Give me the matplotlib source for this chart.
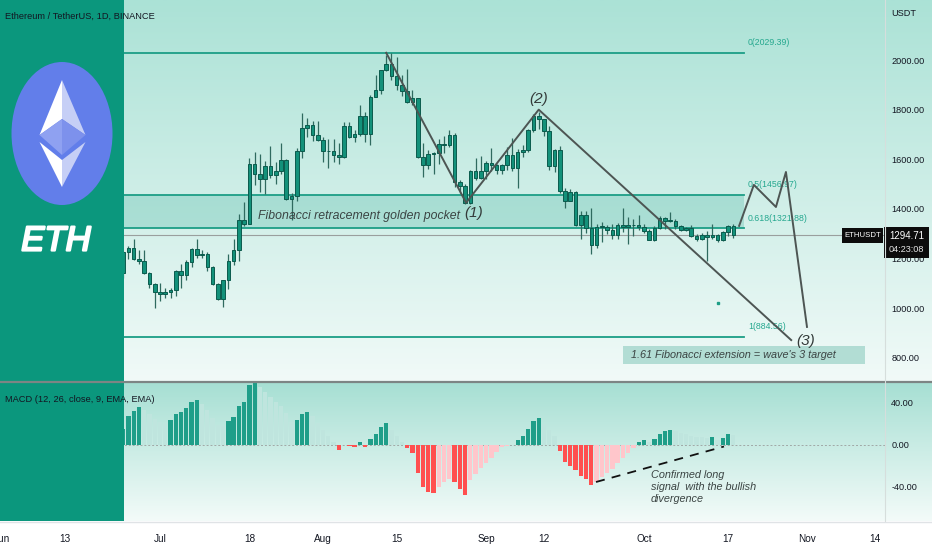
import numpy as np
import pandas as pd
import matplotlib
matplotlib.use("Agg")
import matplotlib.pyplot as plt
import matplotlib.patheffects as pe
from matplotlib.patches import Ellipse, Polygon, Rectangle

plt.rcParams["font.family"] = ["Liberation Sans", "DejaVu Sans"]

# ---------------- data ----------------
dates = pd.date_range("2022-06-24", "2022-10-18", freq="D")

opens = [1143, 1225, 1243, 1198, 1191, 1143, 1098, 1067, 1059, 1067, 1074, 1151, 1134, 1187, 1238, 1216,
         1219, 1168, 1097, 1039, 1113, 1192, 1233, 1354, 1339, 1582, 1542, 1522, 1574, 1535, 1551, 1596,
         1440, 1451, 1635, 1725, 1737, 1697, 1678, 1633, 1632, 1618, 1608, 1736, 1691, 1700, 1776, 1702,
         1852, 1880, 1958, 1983, 1935, 1900, 1877, 1832, 1847, 1610, 1576, 1620, 1624, 1663, 1656, 1696,
         1507, 1491, 1424, 1553, 1524, 1553, 1586, 1577, 1556, 1577, 1617, 1564, 1630, 1636, 1718, 1775,
         1761, 1714, 1574, 1636, 1472, 1434, 1470, 1337, 1377, 1325, 1253, 1328, 1327, 1316, 1294, 1335,
         1329, 1336, 1334, 1328, 1311, 1276, 1323, 1362, 1352, 1352, 1330, 1316, 1322, 1292, 1280, 1294,
         1288, 1297, 1274, 1306, 1331]
highs = [1230, 1250, 1280, 1236, 1233, 1148, 1100, 1102, 1080, 1081, 1154, 1179, 1193, 1241, 1280, 1236,
         1225, 1170, 1100, 1113, 1218, 1279, 1380, 1427, 1605, 1630, 1620, 1595, 1655, 1590, 1667, 1602,
         1466, 1646, 1787, 1767, 1755, 1755, 1688, 1680, 1680, 1667, 1750, 1750, 1720, 1820, 1790, 1860,
         1941, 1961, 2020, 2030, 2013, 1940, 1962, 1880, 1848, 1667, 1637, 1630, 1682, 1694, 1718, 1705,
         1515, 1499, 1555, 1605, 1615, 1595, 1645, 1580, 1581, 1650, 1686, 1640, 1659, 1724, 1781, 1790,
         1764, 1735, 1643, 1654, 1485, 1480, 1471, 1390, 1390, 1403, 1341, 1346, 1336, 1340, 1343, 1402,
         1366, 1358, 1375, 1339, 1318, 1330, 1370, 1366, 1388, 1358, 1336, 1327, 1334, 1298, 1303, 1310,
         1340, 1299, 1310, 1335, 1338]
lows = [1123, 1200, 1196, 1178, 1139, 1080, 1003, 1031, 1041, 1040, 1049, 1082, 1114, 1166, 1203, 1201,
        1150, 1094, 1034, 1006, 1077, 1175, 1192, 1333, 1339, 1495, 1470, 1460, 1525, 1500, 1541, 1437,
        1356, 1433, 1606, 1691, 1673, 1675, 1588, 1565, 1590, 1582, 1605, 1687, 1670, 1694, 1670, 1656,
        1850, 1863, 1955, 1920, 1880, 1855, 1826, 1820, 1605, 1530, 1563, 1542, 1583, 1625, 1650, 1488,
        1464, 1422, 1420, 1515, 1521, 1520, 1552, 1540, 1539, 1556, 1552, 1486, 1610, 1630, 1709, 1721,
        1695, 1557, 1548, 1463, 1403, 1432, 1331, 1281, 1303, 1220, 1242, 1266, 1300, 1280, 1280, 1306,
        1260, 1292, 1315, 1305, 1276, 1270, 1320, 1320, 1346, 1320, 1310, 1311, 1289, 1270, 1275, 1190,
        1280, 1268, 1271, 1291, 1285]
closes = opens[1:] + [1295]

macd_hist = [15, 27, 32.5, 36, 33, 29, 25, 22, 21, 23.4, 29, 31, 35.4, 41, 42.6, 39,
             33, 26, 19, 17.5, 22.4, 26.7, 37.4, 41, 57.6, 60.5, 55, 51, 46, 41, 37, 30,
             22, 23.4, 29.3, 31, 27, 21, 14, 8, 2.5, -5, -0.8, -1.6, -2.6, 2, -2.6, 4.9,
             10.4, 16.9, 20.8, 14, 8, 2, -3.6, -8.5, -27, -41, -45.9, -47, -41, -36, -33, -36,
             -43, -48.5, -34, -28, -23, -18, -13, -7.5, -2.6, -1, -0.3, 4.6, 8.1, 15.3, 22.8, 26,
             20, 14, 8, -6, -16.6, -20.5, -25, -30, -33, -39, -36, -31, -27, -24, -18, -13,
             -8, -3, 2.3, 3.9, 2, 5.5, 10.4, 13, 14.3, 13, 11, 10, 8.5, 7.5, 7, 6,
             7, 4.5, 6.5, 9.8, 8.8]

fib_levels = [2029.39, 1456.97, 1321.88, 884.56]
fib_names = ["0(2029.39)", "0.5(1456.97)", "0.618(1321.88)", "1(884.56)"]
last_price = 1294.71

price_ticks = [800, 1000, 1200, 1400, 1600, 1800, 2000]
macd_ticks = [-40, 0, 40]
tick_dates = ["2022-06-01", "2022-06-13", "2022-07-01", "2022-07-18", "2022-08-01", "2022-08-15",
              "2022-09-01", "2022-09-12", "2022-10-01", "2022-10-17", "2022-11-01", "2022-11-14"]
tick_labels = ["Jun", "13", "Jul", "18", "Aug", "15", "Sep", "12", "Oct", "17", "Nov", "14"]

# elliott wave drawing (day offset from Jul 1, price)
wave_x = [43, 58.2, 72, 120]
wave_y = [2029, 1425, 1800, 872]
proj_x = [110.1, 112.9, 117.1, 119.0, 123.0]
proj_y = [1332, 1497, 1408, 1549, 925]

# ---------------- layout helpers ----------------
W, H = 932, 550
base = pd.Timestamp("2022-07-01")
day = (dates - base).days.values
tick_days = [(pd.Timestamp(t) - base).days for t in tick_dates]

PXD = 5.26  # pixels per day


def d_of(x):
    return (x - 160) / PXD


def p_of(y):
    return 2000 - (y - 60) / 0.2483


def m_of(y):
    return (444.5 - y) / 1.0375


def frac(x0, y0, x1, y1):
    return [x0 / W, 1 - y1 / H, (x1 - x0) / W, (y1 - y0) / H]


fig = plt.figure(figsize=(W / 100, H / 100), dpi=100, facecolor="white")

# background gradients
bg = fig.add_axes([0, 0, 1, 1])
bg.axis("off")


def gradient(top, bot, y0, y1):
    c0 = np.array(matplotlib.colors.to_rgb(top))
    c1 = np.array(matplotlib.colors.to_rgb(bot))
    t = np.linspace(0, 1, 256)[:, None]
    img = (c0 * (1 - t) + c1 * t)[:, None, :]
    bg.imshow(img, extent=[0, W, y1, y0], aspect="auto", interpolation="bilinear")


gradient("#abe2d6", "#f1faf8", 0, 381)
gradient("#a6dfd3", "#f3fbf9", 382, 521)
bg.set_xlim(0, W)
bg.set_ylim(H, 0)

# ---------------- price pane ----------------
ax = fig.add_axes(frac(0, 0, 885, 381))
ax.set_facecolor("none")
ax.set_xlim(d_of(0), d_of(885))
ax.set_ylim(p_of(381), p_of(0))
for s in ax.spines.values():
    s.set_visible(False)
ax.set_xticks([])
ax.yaxis.tick_right()
ax.set_yticks(price_ticks)
ax.set_yticklabels([f"{v:.2f}" for v in price_ticks])
ax.tick_params(axis="y", length=0, pad=4.5, labelsize=6.6, labelcolor="#131722")

# fib retracement
fd0, fd1 = -13, 111
ax.fill_between([fd0, fd1], fib_levels[2], fib_levels[1], color="#5fbfae", alpha=0.35, lw=0, zorder=1)
for lv, nm in zip(fib_levels, fib_names):
    ax.plot([fd0, fd1], [lv, lv], color="#1c9e86", lw=1.3, zorder=2)
    ax.annotate(nm, (fd1, lv), xytext=(3, 4), textcoords="offset points",
                fontsize=6.3, color="#26a88f", va="bottom", ha="left")

# last price line
ax.axhline(last_price, color="#9a9f9e", lw=0.8, zorder=2)

# candles
o = np.array(opens, float)
c = np.array(closes, float)
lo_body = np.minimum(o, c)
hgt = np.maximum(np.abs(c - o), 3)
ax.vlines(day, lows, highs, color="#2f6a5f", lw=0.9, zorder=3)
ax.bar(day, hgt, bottom=lo_body, width=0.68, color="#13917a", edgecolor="#0b5b4d", lw=0.7, zorder=4)

# wave drawing
ax.plot(wave_x, wave_y, color="#4d5553", lw=1.4, zorder=5)
ax.plot(proj_x, proj_y, color="#4d5553", lw=1.4, zorder=5)
for lbl, xx, yy in [("(1)", 59.6, 1385), ("(2)", 72.0, 1842), ("(3)", 122.8, 868)]:
    ax.text(xx, yy, lbl, fontsize=11, style="italic", color="#333a39", ha="center", va="center", zorder=6)

ax.text(d_of(258), p_of(216), "Fibonacci retracement golden pocket", fontsize=8.8, style="italic",
        color="#3b4443", ha="left", va="center", zorder=6)

# target box
ax.add_patch(Rectangle((d_of(623), p_of(364)), d_of(865) - d_of(623), p_of(346) - p_of(364),
                       facecolor="#9fd4c9", alpha=0.75, lw=0, zorder=5))
ax.text(d_of(631), p_of(355.5), "1.61 Fibonacci extension = wave's 3 target", fontsize=7.8,
        style="italic", color="#3b4443", ha="left", va="center", zorder=6)
ax.plot([d_of(718)], [p_of(303)], "s", ms=1.6, color="#1c9e86", zorder=6)

# ---------------- MACD pane ----------------
mx = fig.add_axes(frac(0, 382, 885, 521))
mx.set_facecolor("none")
mx.set_xlim(d_of(0), d_of(885))
mx.set_ylim(m_of(521), m_of(382))
for s in mx.spines.values():
    s.set_visible(False)
mx.yaxis.tick_right()
mx.set_yticks(macd_ticks)
mx.set_yticklabels([f"{v:.2f}" for v in macd_ticks])
mx.tick_params(axis="y", length=0, pad=4.5, labelsize=6.6, labelcolor="#131722")
mx.set_xticks(tick_days)
mx.set_xticklabels(tick_labels)
mx.tick_params(axis="x", length=0, pad=9, labelsize=7.2, labelcolor="#131722")

hist = np.array(macd_hist)
cols = []
for i, v in enumerate(hist):
    prev = hist[i - 1] if i > 0 else v - 1
    if v >= 0:
        cols.append("#1f9e89" if v >= prev else "#bfe5de")
    else:
        cols.append("#ff4f4f" if v <= prev else "#ffc6cb")
mx.bar(day, hist, width=0.82, color=cols, lw=0, zorder=3)
mx.axhline(0, color="#a0a8a6", lw=0.7, ls=(0, (2, 2)), zorder=2)

mx.plot([d_of(596), d_of(724)], [m_of(482), m_of(446.5)], color="#111111", lw=1.3,
        ls=(0, (5, 4)), zorder=4)
mx.text(d_of(651), m_of(470.5), "Confirmed long\nsignal  with the bullish\ndivergence", fontsize=7.8,
        style="italic", color="#3b4443", ha="left", va="top", linespacing=1.25, zorder=5)

# ---------------- overlay ----------------
ov = fig.add_axes([0, 0, 1, 1])
ov.set_facecolor("none")
ov.set_xlim(0, W)
ov.set_ylim(H, 0)
ov.axis("off")

ov.add_patch(Rectangle((0, 0), 124, 521, facecolor="#0b977d", lw=0))
ov.add_patch(Ellipse((62, 133.5), 101, 143, facecolor="#627eea", lw=0))
top, left, right, mid, bup = (62, 80), (39.5, 135), (85.5, 135), (62, 119), (62, 155)
ov.add_patch(Polygon([top, left, mid], facecolor="#ffffff", lw=0))
ov.add_patch(Polygon([top, mid, right], facecolor="#c6cff6", lw=0))
ov.add_patch(Polygon([left, mid, bup], facecolor="#8fa1f1", lw=0))
ov.add_patch(Polygon([mid, right, bup], facecolor="#7d91ec", lw=0))
l2, inner, r2, bot = (39.5, 142), (62, 160), (85.5, 142), (62, 187)
ov.add_patch(Polygon([l2, inner, bot], facecolor="#ffffff", lw=0))
ov.add_patch(Polygon([inner, r2, bot], facecolor="#c6cff6", lw=0))
ov.text(56, 241, "ETH", fontsize=25, style="italic", color="white", ha="center", va="center",
        path_effects=[pe.withStroke(linewidth=1.6, foreground="white")])

ov.text(5, 16, "Ethereum / TetherUS, 1D, BINANCE", fontsize=6.7, color="#131722", ha="left", va="center")
ov.text(5, 399, "MACD (12, 26, close, 9, EMA, EMA)", fontsize=6.7, color="#131722", ha="left", va="center")
ov.text(891, 14, "USDT", fontsize=6.6, color="#131722", ha="left", va="center")

# pane separators and axis borders
ov.plot([0, W], [381.5, 381.5], color="#7d8584", lw=1.6)
ov.plot([0, W], [521.5, 521.5], color="#e0e3e6", lw=1.0)
ov.plot([885, 885], [0, 521], color="#d6dedc", lw=0.8)

# price tag
ov.add_patch(Rectangle((842, 228), 41, 15, facecolor="#0c0c0c", lw=0))
ov.text(862.5, 235.5, "ETHUSDT", fontsize=5.6, color="white", ha="center", va="center")
ov.add_patch(Rectangle((884, 227), 45, 31, facecolor="#0c0c0c", lw=0))
ov.text(906.5, 236, f"{last_price:.2f}", fontsize=7, color="white", ha="center", va="center")
ov.text(906.5, 250, "04:23:08", fontsize=6.6, color="#e6e6e6", ha="center", va="center")

fig.savefig("out.png", dpi=100)
